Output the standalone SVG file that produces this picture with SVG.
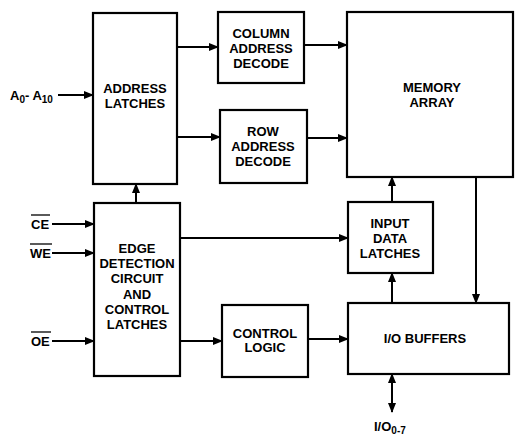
<svg xmlns="http://www.w3.org/2000/svg" width="516" height="436" viewBox="0 0 516 436">
<defs>
<marker id="ah" markerWidth="10" markerHeight="8" refX="9" refY="4" orient="auto" markerUnits="userSpaceOnUse">
<path d="M0,0 L10,4 L0,8 Z" fill="#000"/>
</marker>
<marker id="ahs" markerWidth="10" markerHeight="8" refX="1" refY="4" orient="auto" markerUnits="userSpaceOnUse">
<path d="M10,0 L0,4 L10,8 Z" fill="#000"/>
</marker>
</defs>
<style>
.box{fill:#fff;stroke:#000;stroke-width:2.2}
.t{font-family:"Liberation Sans",Arial,sans-serif;font-weight:bold;font-size:13px;text-anchor:middle;fill:#000}
.l{font-family:"Liberation Sans",Arial,sans-serif;font-weight:bold;font-size:13px;fill:#000}
.s{font-size:10px}
.c{fill:none;stroke:#000;stroke-width:2;marker-end:url(#ah)}
.ol{stroke:#000;stroke-width:1.3}
</style>
<rect width="516" height="436" fill="#fff"/>
<g id="connectors">
<line class="c" x1="58" y1="95" x2="93" y2="95"/>
<line class="c" x1="177" y1="47" x2="218" y2="47"/>
<line class="c" x1="177" y1="137" x2="220" y2="137"/>
<line class="c" x1="304" y1="45" x2="347" y2="45"/>
<line class="c" x1="307" y1="138" x2="347" y2="138"/>
<line class="c" x1="136" y1="203" x2="136" y2="184"/>
<line class="c" x1="52" y1="224" x2="94" y2="224"/>
<line class="c" x1="52" y1="253" x2="94" y2="253"/>
<line class="c" x1="52" y1="341" x2="94" y2="341"/>
<line class="c" x1="180" y1="238" x2="348" y2="238"/>
<line class="c" x1="180" y1="341" x2="222" y2="341"/>
<line class="c" x1="308" y1="339" x2="348" y2="339"/>
<line class="c" x1="392" y1="202" x2="392" y2="177"/>
<line class="c" x1="392" y1="303" x2="392" y2="273"/>
<line class="c" x1="476" y1="177" x2="476" y2="303"/>
<line class="c" x1="392" y1="374" x2="392" y2="412" style="marker-start:url(#ahs)"/>
</g>
<g id="address-latches">
<rect class="box" x="93" y="13" width="84" height="171"/>
<text class="t" x="135" y="93">ADDRESS</text>
<text class="t" x="135" y="108">LATCHES</text>
</g>
<g id="column-address-decode">
<rect class="box" x="218" y="12" width="86" height="71"/>
<text class="t" x="261" y="38">COLUMN</text>
<text class="t" x="261" y="53">ADDRESS</text>
<text class="t" x="261" y="68">DECODE</text>
</g>
<g id="row-address-decode">
<rect class="box" x="220" y="110" width="87" height="73"/>
<text class="t" x="263" y="136">ROW</text>
<text class="t" x="263" y="151">ADDRESS</text>
<text class="t" x="263" y="166">DECODE</text>
</g>
<g id="memory-array">
<rect class="box" x="347" y="12" width="166" height="165"/>
<text class="t" x="432" y="92">MEMORY</text>
<text class="t" x="432" y="107">ARRAY</text>
</g>
<g id="edge-detection">
<rect class="box" x="94" y="203" width="86" height="173"/>
<text class="t" x="137" y="253">EDGE</text>
<text class="t" x="137" y="268">DETECTION</text>
<text class="t" x="137" y="283">CIRCUIT</text>
<text class="t" x="137" y="299">AND</text>
<text class="t" x="137" y="314">CONTROL</text>
<text class="t" x="137" y="329">LATCHES</text>
</g>
<g id="input-data-latches">
<rect class="box" x="348" y="202" width="85" height="71"/>
<text class="t" x="390" y="228">INPUT</text>
<text class="t" x="390" y="243">DATA</text>
<text class="t" x="390" y="258">LATCHES</text>
</g>
<g id="control-logic">
<rect class="box" x="222" y="305" width="86" height="72"/>
<text class="t" x="265" y="338">CONTROL</text>
<text class="t" x="265" y="352">LOGIC</text>
</g>
<g id="io-buffers">
<rect class="box" x="348" y="303" width="161" height="71"/>
<text class="t" x="425" y="343">I/O BUFFERS</text>
</g>
<g id="labels">
<text class="l" x="10" y="100">A<tspan class="s" dy="3">0</tspan><tspan dy="-3">- A</tspan><tspan class="s" dy="3">10</tspan></text>
<text class="l" x="31" y="229">CE</text>
<line class="ol" x1="31" y1="215" x2="50" y2="215"/>
<text class="l" x="30" y="258">WE</text>
<line class="ol" x1="30" y1="244" x2="52" y2="244"/>
<text class="l" x="31" y="346">OE</text>
<line class="ol" x1="31" y1="332" x2="51" y2="332"/>
<text class="l" x="374" y="431">I/O<tspan class="s" dy="3">0-7</tspan></text>
</g>
</svg>
